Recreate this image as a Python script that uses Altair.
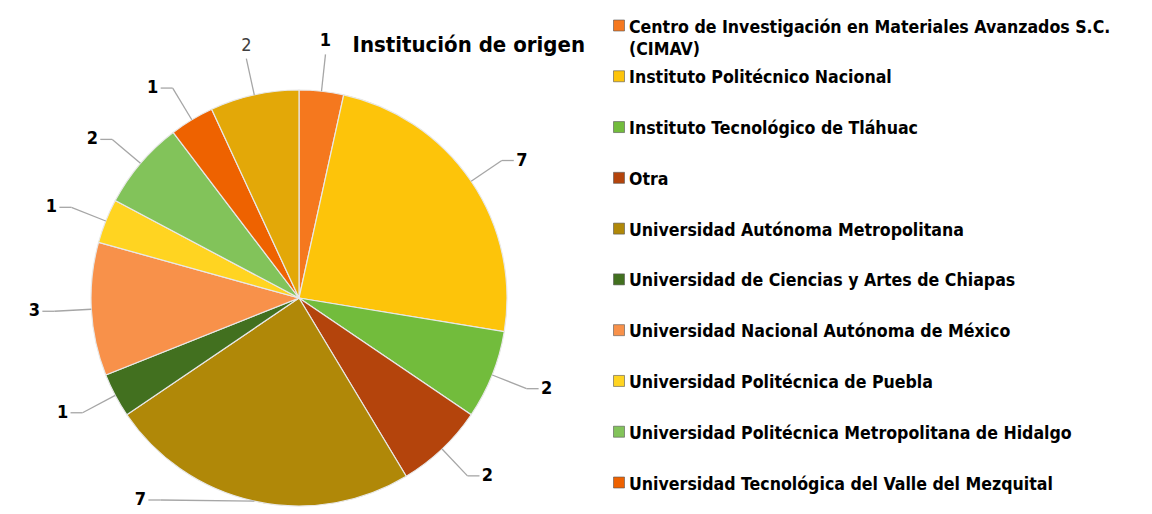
import altair as alt
import pandas as pd

# ---- data ----
categories = [
    "Centro de Investigación en Materiales Avanzados S.C. (CIMAV)",
    "Instituto Politécnico Nacional",
    "Instituto Tecnológico de Tláhuac",
    "Otra",
    "Universidad Autónoma Metropolitana",
    "Universidad de Ciencias y Artes de Chiapas",
    "Universidad Nacional Autónoma de México",
    "Universidad Politécnica de Puebla",
    "Universidad Politécnica Metropolitana de Hidalgo",
    "Universidad Tecnológica del Valle del Mezquital",
    "Sin leyenda",
]
values = [1, 7, 2, 2, 7, 1, 3, 1, 2, 1, 2]
colors = [
    "#F5781E", "#FDC40A", "#72BC3C", "#B4440C", "#B08808", "#42701F",
    "#F8914A", "#FFD421", "#82C35A", "#EE6200", "#E3A808",
]
legend_categories = categories[:10]
legend_labels = [
    "Centro de Investigación en Materiales Avanzados S.C.\n(CIMAV)",
    "Instituto Politécnico Nacional",
    "Instituto Tecnológico de Tláhuac",
    "Otra",
    "Universidad Autónoma Metropolitana",
    "Universidad de Ciencias y Artes de Chiapas",
    "Universidad Nacional Autónoma de México",
    "Universidad Politécnica de Puebla",
    "Universidad Politécnica Metropolitana de Hidalgo",
    "Universidad Tecnológica del Valle del Mezquital",
]
chart_title = "Institución de origen"

# ---- layout / style ----
FONT = "Liberation Sans Narrow, Arial Narrow, DejaVu Sans Condensed, sans-serif"
CX, CY, R = 291, 290, 208
RE = 245
YMAX = 492

df = pd.DataFrame({
    "institucion": categories,
    "n": values,
    "orden": list(range(len(categories))),
    "en_leyenda": [c in legend_categories for c in categories],
})

color_scale = alt.Scale(domain=categories, range=colors)

base = alt.Chart(df)

pie = base.mark_arc(radius=R, stroke="#e8e8e8", strokeWidth=1.2).encode(
    theta=alt.Theta("n:Q", stack=True),
    order=alt.Order("orden:Q"),
    color=alt.Color("institucion:N", scale=color_scale, legend=None),
    x=alt.value(CX),
    y=alt.value(CY),
)

geo = (
    base.transform_window(cum="sum(n)", sort=[alt.SortField("orden")], frame=[None, 0])
    .transform_joinaggregate(total="sum(n)")
    .transform_calculate(a="(datum.cum - datum.n/2) / datum.total * 2 * PI")
    .transform_calculate(s="sin(datum.a) >= 0 ? 1 : -1")
    .transform_calculate(top="abs(sin(datum.a)) < 0.25 && cos(datum.a) > 0")
    .transform_calculate(ex=f"{CX} + {R}*sin(datum.a)")
    .transform_calculate(ey=f"{CY} - {R}*cos(datum.a)")
    .transform_calculate(ay=f"min({CY} - {RE}*cos(datum.a), {YMAX})")
    .transform_calculate(ax=f"{CX} + datum.s*sqrt({RE}*{RE} - pow(datum.ay - {CY}, 2))")
    .transform_calculate(bx="datum.top ? datum.ax : datum.ax + datum.s*12")
    .transform_calculate(lx="datum.top ? datum.ax : datum.ax + datum.s*20")
    .transform_calculate(ly="datum.top ? datum.ay - 13 : datum.ay")
)

lead1 = geo.mark_rule(color="#A6A6A6", strokeWidth=1.3).encode(
    x=alt.X("ex:Q", scale=None, axis=None),
    y=alt.Y("ey:Q", scale=None, axis=None),
    x2="ax:Q",
    y2="ay:Q",
)
lead2 = geo.mark_rule(color="#A6A6A6", strokeWidth=1.3).encode(
    x=alt.X("ax:Q", scale=None, axis=None),
    y=alt.Y("ay:Q", scale=None, axis=None),
    x2="bx:Q",
    y2="ay:Q",
)
lab_bold = geo.transform_filter("datum.en_leyenda").mark_text(
    font=FONT, fontSize=18, fontWeight="bold", color="#000000", baseline="middle"
).encode(
    x=alt.X("lx:Q", scale=None, axis=None),
    y=alt.Y("ly:Q", scale=None, axis=None),
    text="n:Q",
)
lab_plain = geo.transform_filter("!datum.en_leyenda").mark_text(
    font=FONT, fontSize=18, color="#404040", baseline="middle"
).encode(
    x=alt.X("lx:Q", scale=None, axis=None),
    y=alt.Y("ly:Q", scale=None, axis=None),
    text="n:Q",
)

title = alt.Chart(pd.DataFrame({"t": [chart_title]})).mark_text(
    font=FONT, fontSize=22, fontWeight="bold", align="right", baseline="middle", color="#000000"
).encode(x=alt.value(577), y=alt.value(37), text="t:N")

pie_panel = alt.layer(pie, lead1, lead2, lab_bold, lab_plain, title).properties(
    width=582, height=494
)

leg_df = pd.DataFrame({"institucion": legend_categories, "etiqueta": legend_labels})
leg_y = alt.Y(
    "institucion:N",
    sort=legend_categories,
    scale=alt.Scale(type="point", range=[17.5, 474.5], padding=0),
    axis=None,
)
leg_sq = alt.Chart(leg_df).mark_square(size=121, stroke="#555555", strokeWidth=0.6, opacity=1).encode(
    x=alt.value(6),
    y=leg_y,
    color=alt.Color("institucion:N", scale=color_scale, legend=None),
)
leg_txt = alt.Chart(leg_df).mark_text(
    font=FONT, fontSize=17.6, fontWeight="bold", align="left", baseline="alphabetic",
    dy=7, lineBreak="\n", lineHeight=22, color="#000000",
).encode(x=alt.value(16), y=leg_y, text="etiqueta:N")

legend_panel = alt.layer(leg_sq, leg_txt).properties(width=520, height=494)

chart = alt.hconcat(pie_panel, legend_panel, spacing=22).properties(
    padding=0
).configure_view(stroke=None)

chart.save("out.html", embed_options={"renderer": "svg", "actions": False})
